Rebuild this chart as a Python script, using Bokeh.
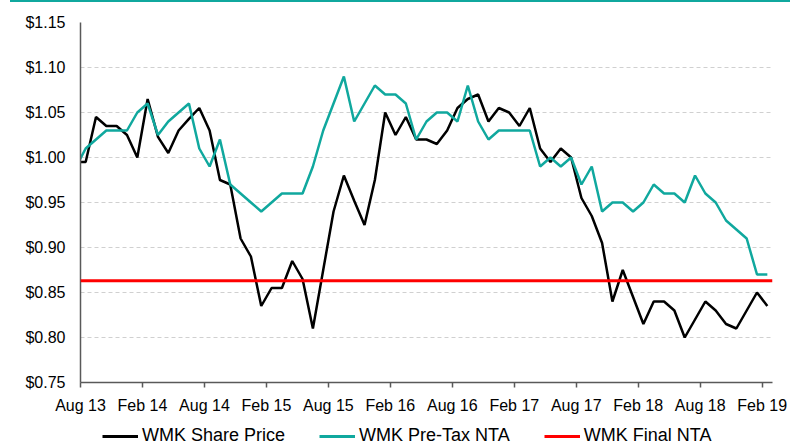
import pandas as pd
from bokeh.plotting import figure
from bokeh.layouts import column
from bokeh.models import (Range1d, FixedTicker, NumeralTickFormatter, Span,
                          Legend, LegendItem, Div)
from bokeh.embed import file_html
from bokeh.resources import INLINE

# ---------------- data ----------------
months = [p.strftime("%b %y") for p in pd.period_range("2013-07", "2019-02", freq="M")]

share_price = [0.995, 0.995, 1.045, 1.035, 1.035, 1.025, 1.000, 1.065, 1.023, 1.005,
               1.030, 1.043, 1.055, 1.030, 0.975, 0.970, 0.910, 0.890, 0.835, 0.855,
               0.855, 0.885, 0.865, 0.810, 0.875, 0.940, 0.980, 0.952, 0.925, 0.975,
               1.050, 1.025, 1.045, 1.020, 1.020, 1.015, 1.030, 1.055, 1.065, 1.070,
               1.040, 1.055, 1.050, 1.035, 1.055, 1.010, 0.995, 1.010, 1.000, 0.955,
               0.935, 0.905, 0.840, 0.875, 0.845, 0.815, 0.840, 0.840, 0.830, 0.800,
               0.820, 0.840, 0.830, 0.815, 0.810, 0.830, 0.850, 0.835]

pretax_nta = [0.988, 1.010, 1.020, 1.030, 1.030, 1.030, 1.050, 1.060, 1.025, 1.040,
              1.050, 1.060, 1.010, 0.990, 1.020, 0.970, 0.960, 0.950, 0.940, 0.950,
              0.960, 0.960, 0.960, 0.990, 1.030, 1.060, 1.090, 1.040, 1.060, 1.080,
              1.070, 1.070, 1.060, 1.020, 1.040, 1.050, 1.050, 1.040, 1.080, 1.040,
              1.020, 1.030, 1.030, 1.030, 1.030, 0.990, 1.000, 0.990, 1.000, 0.970,
              0.990, 0.940, 0.950, 0.950, 0.940, 0.950, 0.970, 0.960, 0.960, 0.950,
              0.980, 0.960, 0.950, 0.930, 0.920, 0.910, 0.870, 0.870]

final_nta = 0.863

series_names = ["WMK Share Price", "WMK Pre-Tax NTA", "WMK Final NTA"]

tick_labels = ["Aug 13", "Feb 14", "Aug 14", "Feb 15", "Aug 15", "Feb 16",
               "Aug 16", "Feb 17", "Aug 17", "Feb 18", "Aug 18", "Feb 19"]
y_ticks = [0.75, 0.80, 0.85, 0.90, 0.95, 1.00, 1.05, 1.10, 1.15]

# month offset from Aug 2013, points placed mid-month
start = pd.Period("2013-08", freq="M")
xs = [(pd.Period(pd.to_datetime(m, format="%b %y"), freq="M") - start).n + 0.5 for m in months]
tick_pos = [(pd.Period(pd.to_datetime(t, format="%b %y"), freq="M") - start).n for t in tick_labels]

TEAL = "#10a89e"
RED = "#ff0000"
FONT = "Liberation Sans"
W = 796

# thin teal rule at the top of the page
bar = Div(text="", width=780, height=2, margin=(0, 0, 0, 10),
          styles={"background-color": TEAL})

# main chart
p = figure(width=W, height=418, output_backend="svg", toolbar_location=None,
           x_range=Range1d(0, 67), y_range=Range1d(0.75, 1.15),
           min_border_left=80, min_border_right=24, min_border_top=20,
           min_border_bottom=38)
p.outline_line_color = None
p.background_fill_color = "white"
p.border_fill_color = "white"

p.xaxis.ticker = FixedTicker(ticks=tick_pos)
p.xaxis.major_label_overrides = {t: l for t, l in zip(tick_pos, tick_labels)}
p.xaxis.minor_tick_line_color = None
p.xaxis.major_tick_out = 5
p.xaxis.major_tick_in = 0
p.xaxis.major_tick_line_color = "#595959"
p.xaxis.major_tick_line_width = 1.5
p.xaxis.axis_line_color = "#595959"
p.xaxis.axis_line_width = 1.5
p.xaxis.major_label_standoff = 9
p.xaxis.major_label_text_font = FONT
p.xaxis.major_label_text_font_size = "16px"
p.xaxis.major_label_text_color = "#000000"

p.yaxis.ticker = FixedTicker(ticks=y_ticks)
p.yaxis.formatter = NumeralTickFormatter(format="$0.00")
p.yaxis.minor_tick_line_color = None
p.yaxis.major_tick_line_color = None
p.yaxis.major_tick_out = 0
p.yaxis.major_tick_in = 0
p.yaxis.axis_line_color = "#595959"
p.yaxis.axis_line_width = 1.5
p.yaxis.major_label_standoff = 15
p.yaxis.major_label_text_font = FONT
p.yaxis.major_label_text_font_size = "16px"
p.yaxis.major_label_text_color = "#000000"

p.xgrid.grid_line_color = None
p.ygrid.ticker = FixedTicker(ticks=y_ticks[1:])
p.ygrid.grid_line_color = "#d0d0d0"
p.ygrid.grid_line_dash = "4 3"
p.ygrid.grid_line_width = 1

p.line(xs, share_price, line_color="black", line_width=2.5)
p.line(xs, pretax_nta, line_color=TEAL, line_width=2.5)
p.add_layout(Span(location=final_nta, dimension="width", line_color=RED, line_width=3))

# legend strip (its own small canvas under the chart); key lines sit outside its range
lg = figure(width=W, height=26, output_backend="svg", toolbar_location=None,
            min_border_left=80, min_border_right=24, min_border_top=0,
            min_border_bottom=0, x_range=Range1d(0, 1), y_range=Range1d(0, 1))
lg.axis.visible = False
lg.grid.visible = False
lg.outline_line_color = None
lg.background_fill_color = "white"
lg.border_fill_color = "white"
k_share = lg.line([-2, -3], [-2, -3], line_color="black", line_width=3)
k_pre = lg.line([-2, -3], [-2, -3], line_color=TEAL, line_width=3)
k_final = lg.line([-2, -3], [-2, -3], line_color=RED, line_width=3)

legend = Legend(items=[LegendItem(label=series_names[0], renderers=[k_share]),
                       LegendItem(label=series_names[1], renderers=[k_pre]),
                       LegendItem(label=series_names[2], renderers=[k_final])],
                orientation="horizontal", location=(22, 0),
                glyph_width=36, glyph_height=18, label_standoff=4, spacing=34,
                padding=0, margin=0, border_line_color=None,
                background_fill_alpha=0, label_text_font=FONT,
                label_text_font_size="18px", label_text_color="#000000",
                label_height=18)
lg.add_layout(legend)

layout = column(bar, p, lg, spacing=0)
open("out.html", "w").write(file_html(layout, INLINE))
